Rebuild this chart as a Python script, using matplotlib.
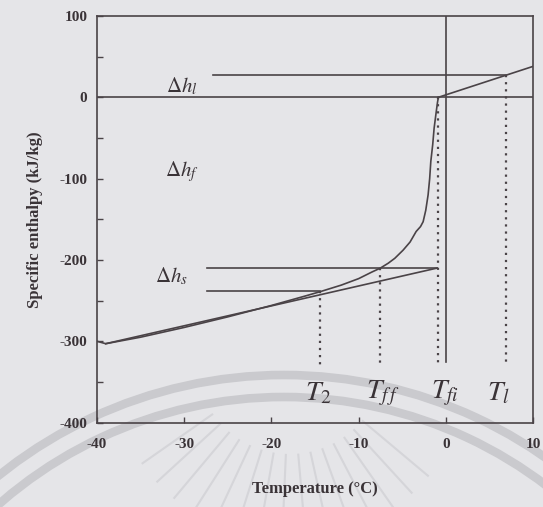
import numpy as np
import matplotlib.pyplot as plt
from matplotlib.patches import Arc

plt.rcParams['mathtext.fontset'] = 'stix'
plt.rcParams['font.family'] = 'Liberation Serif'
plt.rcParams['axes.unicode_minus'] = False

# freezing curve (apparent enthalpy of the food)
T_curve = [-40, -39, -35, -30, -25, -20, -16, -14.4, -12, -10, -8.5, -7.5, -6.6, -5.85,
           -4.9, -4.1, -3.4, -2.9, -2.6, -2.3, -2.03, -1.85, -1.72, -1.5, -1.34, -1.1, -0.95, -0.85]
h_curve = [-300, -303, -295, -283, -270, -256, -244, -239, -231, -223, -215, -210, -204, -198,
           -188, -178, -165, -159, -153, -139, -120, -100, -79, -58, -38, -18, -6, 0]

# liquid part above the initial freezing point
T_liq = [-0.85, 10]
h_liq = [0, 38]

# straight line for the frozen product
T_frozen = [-39, -1.0]
h_frozen = [-303, -210]

# characteristic temperatures and enthalpy levels
T_2, T_ff, T_fi, T_l = -14.4, -7.5, -0.85, 6.9
h_l, h_ff, h_2 = 27.5, -210, -238
h_bottom = -329

line_col = '#4a4347'
text_col = '#3a3337'
bg = '#e5e5e8'

fig = plt.figure(figsize=(5.43, 5.07), dpi=100, facecolor=bg)

# faint watermark of the scanned page (arches and rays), in inches
px = fig.dpi_scale_trans
cx, cy = 2.84, 5.07 - 8.30
for r in [4.55, 4.33]:
    fig.patches.append(Arc((cx, cy), 2 * r, 2 * r, theta1=40, theta2=140,
                           transform=px, color='#cacace', lw=6.2, zorder=-2))
rc_x, rc_y = 2.90, 5.07 - 3.60
for ang in np.arange(-145, -35, 7.5):
    a = np.deg2rad(ang)
    fig.lines.append(plt.Line2D([rc_x + 0.95 * np.cos(a), rc_x + 1.8 * np.cos(a)],
                                [rc_y + 0.95 * np.sin(a), rc_y + 1.8 * np.sin(a)],
                                transform=px, color='#d5d5d9', lw=1.5, zorder=-3))

ax = fig.add_axes([0.1786, 0.1665, 0.803, 0.802])
ax.set_facecolor('none')

ax.plot(T_curve, h_curve, color=line_col, lw=1.2)
ax.plot(T_liq, h_liq, color=line_col, lw=1.2)
ax.plot(T_frozen, h_frozen, color=line_col, lw=1.2)

ax.axhline(0, color=line_col, lw=1.2)
ax.plot([-26.7, T_l], [h_l, h_l], color=line_col, lw=1.2)
ax.plot([-27.4, -1.0], [h_ff, h_ff], color=line_col, lw=1.2)
ax.plot([-27.4, T_2], [h_2, h_2], color=line_col, lw=1.2)
ax.plot([0, 0], [100, -325], color=line_col, lw=1.2)

dots = (0, (1, 2.2))
for t, top in [(T_2, h_2), (T_ff, h_ff), (T_fi, 0), (T_l, h_l)]:
    ax.plot([t, t], [top, h_bottom], color=line_col, lw=1.6, linestyle=dots)

ax.text(-30.3, 13, r'$\Delta h_l$', fontsize=15, ha='center', va='center', color=text_col)
ax.text(-30.3, -91, r'$\Delta h_f$', fontsize=15, ha='center', va='center', color=text_col)
ax.text(-31.5, -220, r'$\Delta h_s$', fontsize=15, ha='center', va='center', color=text_col)

for t, lab in [(-14.6, r'$T_2$'), (-7.2, r'$T_{f\,f}$'), (-0.1, r'$T_{fi}$'), (6.0, r'$T_l$')]:
    ax.text(t, -364, lab, fontsize=20, ha='center', va='center', color=text_col)

ax.set_xlim(-40, 10)
ax.set_ylim(-400, 100)
ax.set_xticks([-40, -30, -20, -10, 0, 10])
ax.set_yticks([-400, -300, -200, -100, 0, 100])
ax.set_yticks(np.arange(-400, 101, 50), minor=True)
ax.tick_params(direction='in', length=4, width=1, color=line_col, labelsize=11,
               labelcolor=text_col)
ax.tick_params(axis='x', pad=11)
ax.tick_params(axis='y', pad=7)
ax.tick_params(which='minor', direction='in', length=4, width=1, color=line_col)
for lbl in ax.get_xticklabels() + ax.get_yticklabels():
    lbl.set_fontweight('bold')
for s in ax.spines.values():
    s.set_color(line_col)
    s.set_linewidth(1.2)

ax.set_xlabel('Temperature (°C)', fontsize=12, fontweight='bold', color=text_col, labelpad=22)
ax.set_ylabel('Specific enthalpy (kJ/kg)', fontsize=12, fontweight='bold', color=text_col, labelpad=12)

fig.savefig('out.png', dpi=100, facecolor=bg)
